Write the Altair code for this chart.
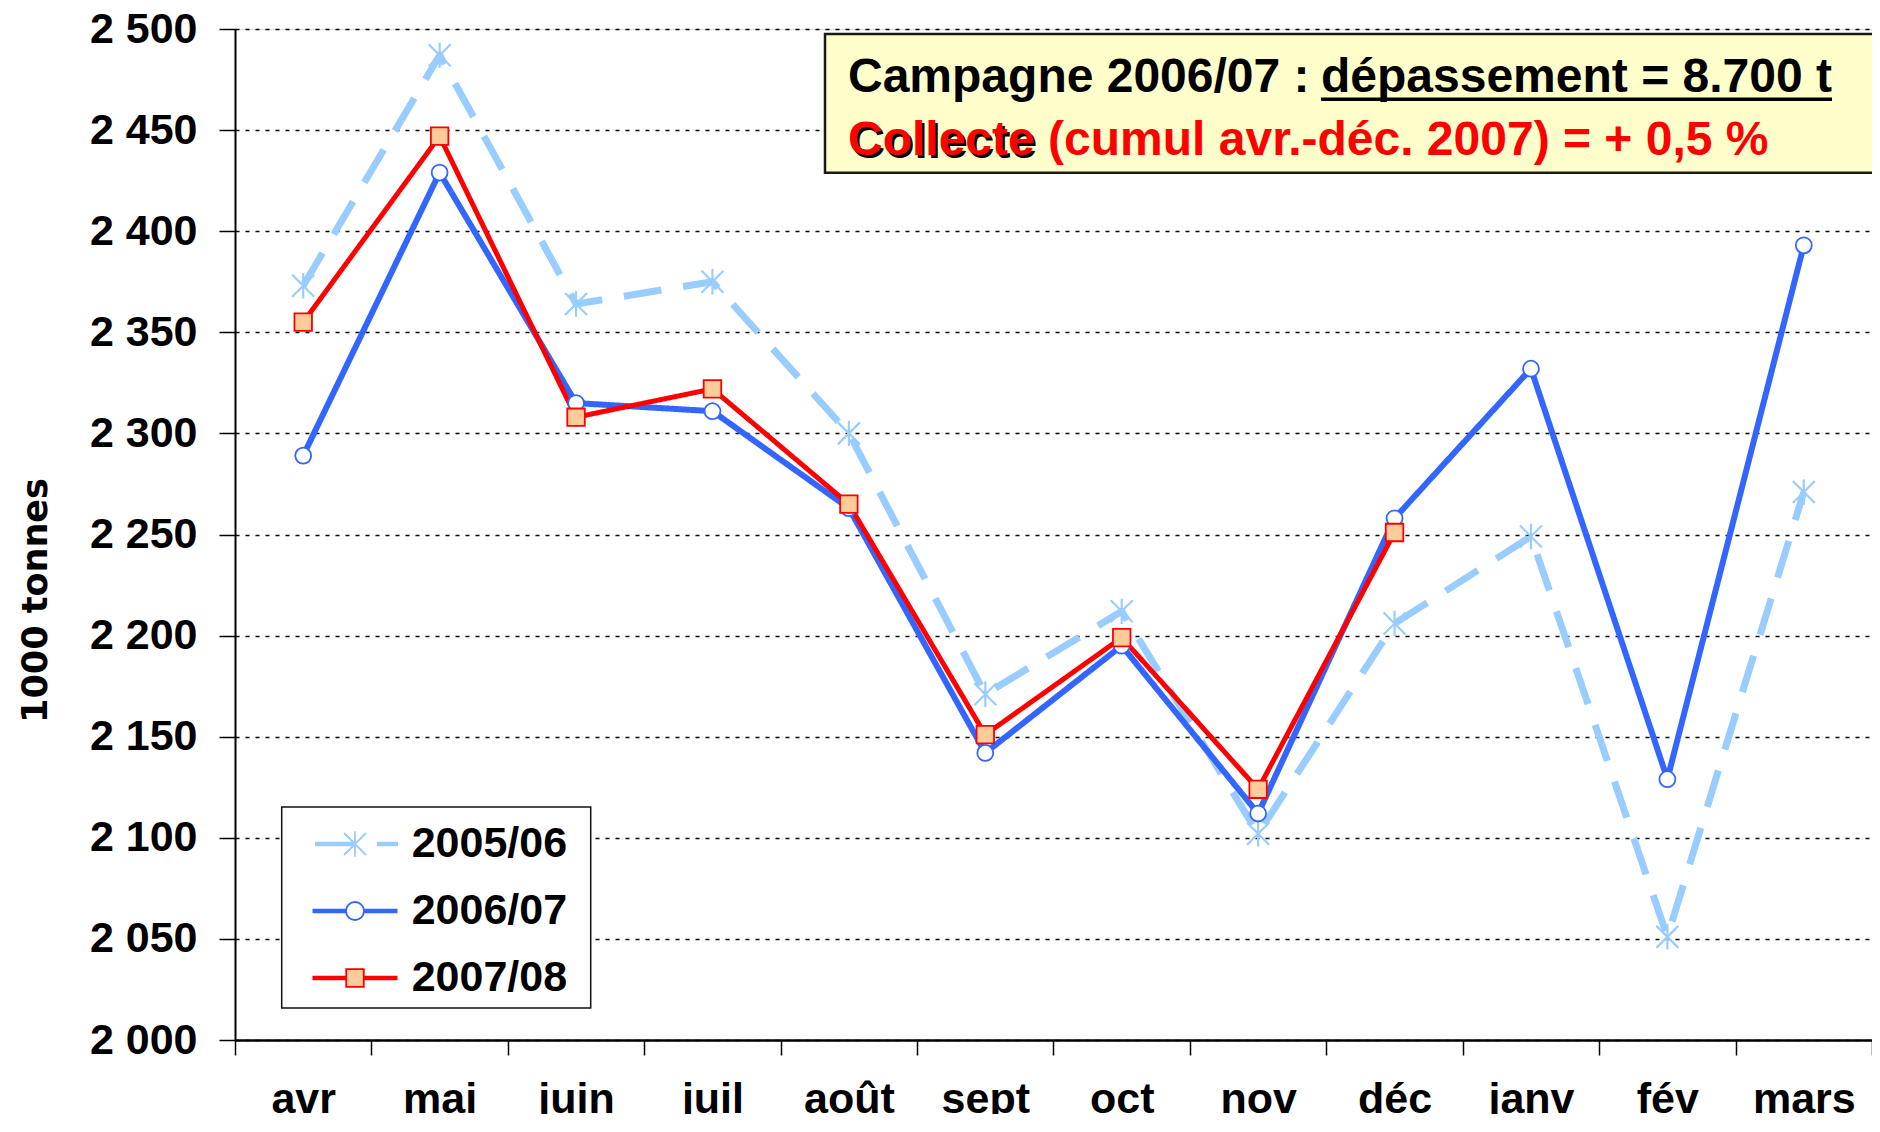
import altair as alt
import pandas as pd

# ---------------- data ----------------
months = ["avr", "mai", "juin", "juil", "août", "sept", "oct", "nov", "déc", "janv", "fév", "mars"]
series_names = ["2005/06", "2006/07", "2007/08"]
s0506 = [2373, 2487, 2364, 2375, 2300, 2171, 2212, 2102, 2206, 2249, 2051, 2271]
s0607 = [2289, 2429, 2315, 2311, 2263, 2142, 2195, 2112, 2258, 2332, 2129, 2393]
s0708 = [2355, 2447, 2308, 2322, 2265, 2151, 2199, 2124, 2251]
y_ticks = [2000, 2050, 2100, 2150, 2200, 2250, 2300, 2350, 2400, 2450, 2500]
y_title = "1000 tonnes"
note1a = "Campagne 2006/07 : "
note1b = "dépassement = 8.700 t"
note2a = "Collecte"
note2 = "Collecte (cumul avr.-déc. 2007) = + 0,5 %"

# ---------------- styles ----------------
line_colors = ["#99CCFF", "#3366FF", "#FF0000"]
marker_fills = ["transparent", "#FFFFFF", "#FFCC99"]
FONT = "Liberation Sans"
W, H = 1637, 1011

rows = []
for name, vals in zip(series_names, [s0506, s0607, s0708]):
    for m, v in zip(months, vals):
        rows.append({"series": name, "month": m, "value": v})
df = pd.DataFrame(rows)
one = pd.DataFrame({"k": [0]})

x_enc = alt.X(
    "month:N",
    sort=months,
    bandPosition=0.5,
    scale=alt.Scale(type="band", domain=months, paddingInner=0, paddingOuter=0),
    axis=alt.Axis(
        title=None, labelAngle=0, labelFont=FONT, labelFontWeight="bold",
        labelFontSize=43, labelColor="black", labelBaseline="alphabetic",
        labelPadding=57, tickSize=15, tickColor="black", tickWidth=1.5,
        tickBand="extent", domainColor="black", domainWidth=2.5, grid=False,
        labelOverlap=False,
    ),
)
y_enc = alt.Y(
    "value:Q",
    scale=alt.Scale(domain=[2000, 2500], nice=False, zero=False),
    axis=alt.Axis(
        values=y_ticks,
        labelExpr="replace(format(datum.value, ','), ',', ' ')",
        labelFont=FONT, labelFontWeight="bold", labelFontSize=43, labelColor="black",
        labelPadding=22, tickSize=16, tickColor="black", tickWidth=1.5,
        domainColor="black", domainWidth=2,
        grid=True, gridColor="black", gridDash=[4, 6], gridWidth=1.6,
        title=y_title, titleFont="DejaVu Sans", titleFontWeight="bold",
        titleFontSize=35, titleColor="black", titleAngle=270,
        titleX=-189, titleY=571, titleAlign="center", titleBaseline="alphabetic",
    ),
)

lines = alt.Chart(df).mark_line(strokeJoin="round").encode(
    x=x_enc,
    y=y_enc,
    color=alt.Color("series:N", scale=alt.Scale(domain=series_names, range=line_colors), legend=None),
    strokeDash=alt.StrokeDash("series:N", scale=alt.Scale(domain=series_names, range=[[38, 22], [1, 0], [1, 0]]), legend=None),
    strokeWidth=alt.StrokeWidth("series:N", scale=alt.Scale(domain=series_names, range=[7, 5, 5]), legend=None),
)

ASTER = "M0,-1.15V1.15M-1,-1L1,1M-1,1L1,-1"
m0 = alt.Chart(df).transform_filter(alt.datum.series == series_names[0]).mark_point(
    shape=ASTER, size=484, filled=False, stroke=line_colors[0], strokeWidth=2.2, opacity=1
).encode(x=x_enc, y=y_enc)
m1 = alt.Chart(df).transform_filter(alt.datum.series == series_names[1]).mark_point(
    shape="circle", size=254, filled=True, fill="#FFFFFF", stroke=line_colors[1], strokeWidth=1.8, opacity=1
).encode(x=x_enc, y=y_enc)
m2 = alt.Chart(df).transform_filter(alt.datum.series == series_names[2]).mark_point(
    shape="square", size=306, filled=True, fill="#FFCC99", stroke=line_colors[2], strokeWidth=1.8, opacity=1
).encode(x=x_enc, y=y_enc)

# ---------------- legend (two overlaid native legends + frame) ----------------
U = 15.0  # px per path unit (symbolSize 900 -> sqrt/2 = 15)


def q(v):
    return f"{v / U:.4f}"


la_paths = [
    f"M{q(-40)},0H{q(-2)}M{q(22)},0H{q(43)}",
    f"M{q(-42.5)},0H{q(42.5)}",
    f"M{q(-42.5)},0H{q(42.5)}",
]
r, s, a = 9.0, 8.8, 11.0
lb_paths = [
    f"M0,{q(-a*1.15)}V{q(a*1.15)}M{q(-a)},{q(-a)}L{q(a)},{q(a)}M{q(-a)},{q(a)}L{q(a)},{q(-a)}",
    f"M{q(-r)},0A{q(r)},{q(r)} 0 1,1 {q(r)},0A{q(r)},{q(r)} 0 1,1 {q(-r)},0Z",
    f"M{q(-s)},{q(-s)}H{q(s)}V{q(s)}H{q(-s)}Z",
]

common_leg = dict(
    orient="none", legendX=46.7, legendY=780.5, title=None, direction="vertical",
    labelFont=FONT, labelFontSize=43, labelFontWeight="bold", labelColor="black",
    labelOffset=35.2, symbolOffset=38.8, rowPadding=23, padding=13, symbolOpacity=1,
    symbolSize=900,
)
legA = alt.Legend(symbolStrokeWidth=4.5, zindex=2, **common_leg)
legB = alt.Legend(symbolStrokeWidth=1.8, labelOpacity=0, zindex=3, **common_leg)

LA = alt.Chart(df).transform_filter("false").mark_point(filled=False, opacity=1, strokeWidth=4.5).encode(
    shape=alt.Shape("series:N", scale=alt.Scale(domain=series_names, range=la_paths), legend=legA),
    stroke=alt.Stroke("series:N", scale=alt.Scale(domain=series_names, range=line_colors), legend=legA),
)
LB = alt.Chart(df).transform_filter("false").mark_point(filled=True, opacity=1, strokeWidth=1.8).encode(
    shape=alt.Shape("series:N", scale=alt.Scale(domain=series_names, range=lb_paths), legend=legB),
    stroke=alt.Stroke("series:N", scale=alt.Scale(domain=series_names, range=line_colors), legend=legB),
    fill=alt.Fill("series:N", scale=alt.Scale(domain=series_names, range=marker_fills), legend=legB),
)
leg_frame = alt.Chart(one).mark_rect(fill="white", stroke="#111111", strokeWidth=1.5).encode(
    x=alt.value(46.7), x2=alt.value(355.7), y=alt.value(778), y2=alt.value(979)
)

# ---------------- annotation box ----------------
box = alt.Chart(one).mark_rect(fill="#FFFFCC", stroke="#1a1a1a", strokeWidth=2.5).encode(
    x=alt.value(590), x2=alt.value(1720), y=alt.value(5), y2=alt.value(143.7)
)
tstyle = dict(font=FONT, fontWeight="bold", fontSize=48, align="left", baseline="alphabetic")
t1a = alt.Chart(one).mark_text(color="black", **tstyle).encode(
    x=alt.value(613), y=alt.value(62.7), text=alt.value(note1a))
t1b = alt.Chart(one).mark_text(color="black", **tstyle).encode(
    x=alt.value(1086), y=alt.value(62.7), text=alt.value(note1b))
ul = alt.Chart(one).mark_rule(color="black", strokeWidth=3.5).encode(
    x=alt.value(1086), x2=alt.value(1597), y=alt.value(70.3))
t2s = alt.Chart(one).mark_text(color="black", **tstyle).encode(
    x=alt.value(615.5), y=alt.value(128.5), text=alt.value(note2a))
t2 = alt.Chart(one).mark_text(color="#FF0000", **tstyle).encode(
    x=alt.value(613), y=alt.value(126), text=alt.value(note2))

chart = alt.layer(
    box, t1a, t1b, ul, t2s, t2, lines, m0, m1, m2, leg_frame, LA, LB
).resolve_scale(
    shape="independent", stroke="independent", fill="independent"
).resolve_legend(
    shape="independent", stroke="independent", fill="independent"
).properties(
    width=W, height=H,
    padding={"left": 227, "top": 21, "right": 0, "bottom": 74},
    autosize=alt.AutoSizeParams(type="none"),
).configure_view(stroke=None).configure(background="white")

chart.save("out.html", embed_options={"renderer": "svg", "actions": False})
